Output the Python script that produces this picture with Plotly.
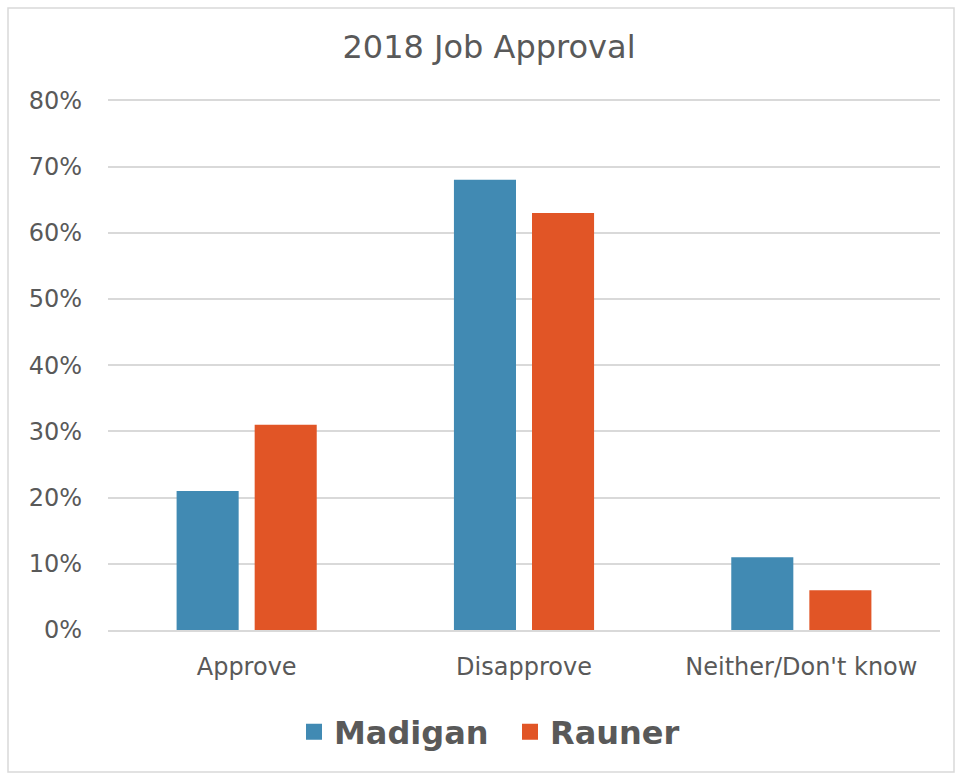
import plotly.graph_objects as go

categorias = ["Approve", "Disapprove", "Neither/Don't know"]
madigan = [21, 68, 11]
rauner = [31, 63, 6]

cor_madigan = "#418AB3"
cor_rauner = "#E15526"
cor_texto = "#595959"
cor_grade = "#D9D9D9"
fonte = "'DejaVu Sans', sans-serif"

# Criar o gráfico (barras sem legenda própria; a legenda usa marcadores quadrados maiores)
fig = go.Figure(
    data=[
        go.Bar(name="Madigan", x=categorias, y=madigan, showlegend=False,
               marker=dict(color=cor_madigan, line=dict(width=0))),
        go.Bar(name="Rauner", x=categorias, y=rauner, showlegend=False,
               marker=dict(color=cor_rauner, line=dict(width=0))),
        go.Scatter(name="Madigan", x=[None], y=[None], mode="markers",
                   marker=dict(symbol="square", size=21, color=cor_madigan)),
        go.Scatter(name="Rauner", x=[None], y=[None], mode="markers",
                   marker=dict(symbol="square", size=21, color=cor_rauner)),
    ]
)

# Atualizar layout
fig.update_layout(
    width=959,
    height=776,
    barmode="group",
    bargap=0.437,
    bargroupgap=0.205,
    paper_bgcolor="white",
    plot_bgcolor="white",
    font=dict(family=fonte, color=cor_texto),
    margin=dict(l=108, r=19, t=99, b=146),
    title=dict(
        text="2018 Job Approval",
        xref="container",
        x=489 / 959,
        xanchor="center",
        y=1 - 47 / 776,
        yanchor="middle",
        font=dict(size=32, color=cor_texto, family=fonte),
    ),
    xaxis=dict(
        showgrid=False,
        showline=True,
        linecolor=cor_grade,
        linewidth=1.5,
        tickfont=dict(size=24, color=cor_texto),
        ticks="",
        ticklabelstandoff=14,
    ),
    yaxis=dict(
        range=[0, 80.2],
        dtick=10,
        ticksuffix="%",
        showgrid=True,
        gridcolor=cor_grade,
        gridwidth=1.5,
        zeroline=False,
        tickfont=dict(size=24, color=cor_texto),
        ticklabelstandoff=25,
    ),
    legend=dict(
        orientation="h",
        x=(294 - 108) / 832,
        xanchor="left",
        y=-0.192,
        yanchor="middle",
        font=dict(size=32, color=cor_texto, family=fonte, weight="bold"),
        itemsizing="trace",
        entrywidth=171,
        entrywidthmode="pixels",
        traceorder="normal",
    ),
    shapes=[
        dict(
            type="rect",
            xref="paper",
            yref="paper",
            x0=-100 / 832,
            x1=1 + 14 / 832,
            y0=-142 / 531,
            y1=1 + 91 / 531,
            line=dict(color=cor_grade, width=1.5),
            fillcolor="rgba(0,0,0,0)",
            layer="below",
        )
    ],
)

# Remover a margem do body para a figura ficar alinhada ao canto da janela
fig.write_html(
    "out.html",
    config={"displayModeBar": False},
    post_script="document.body.style.margin='0px';",
)
